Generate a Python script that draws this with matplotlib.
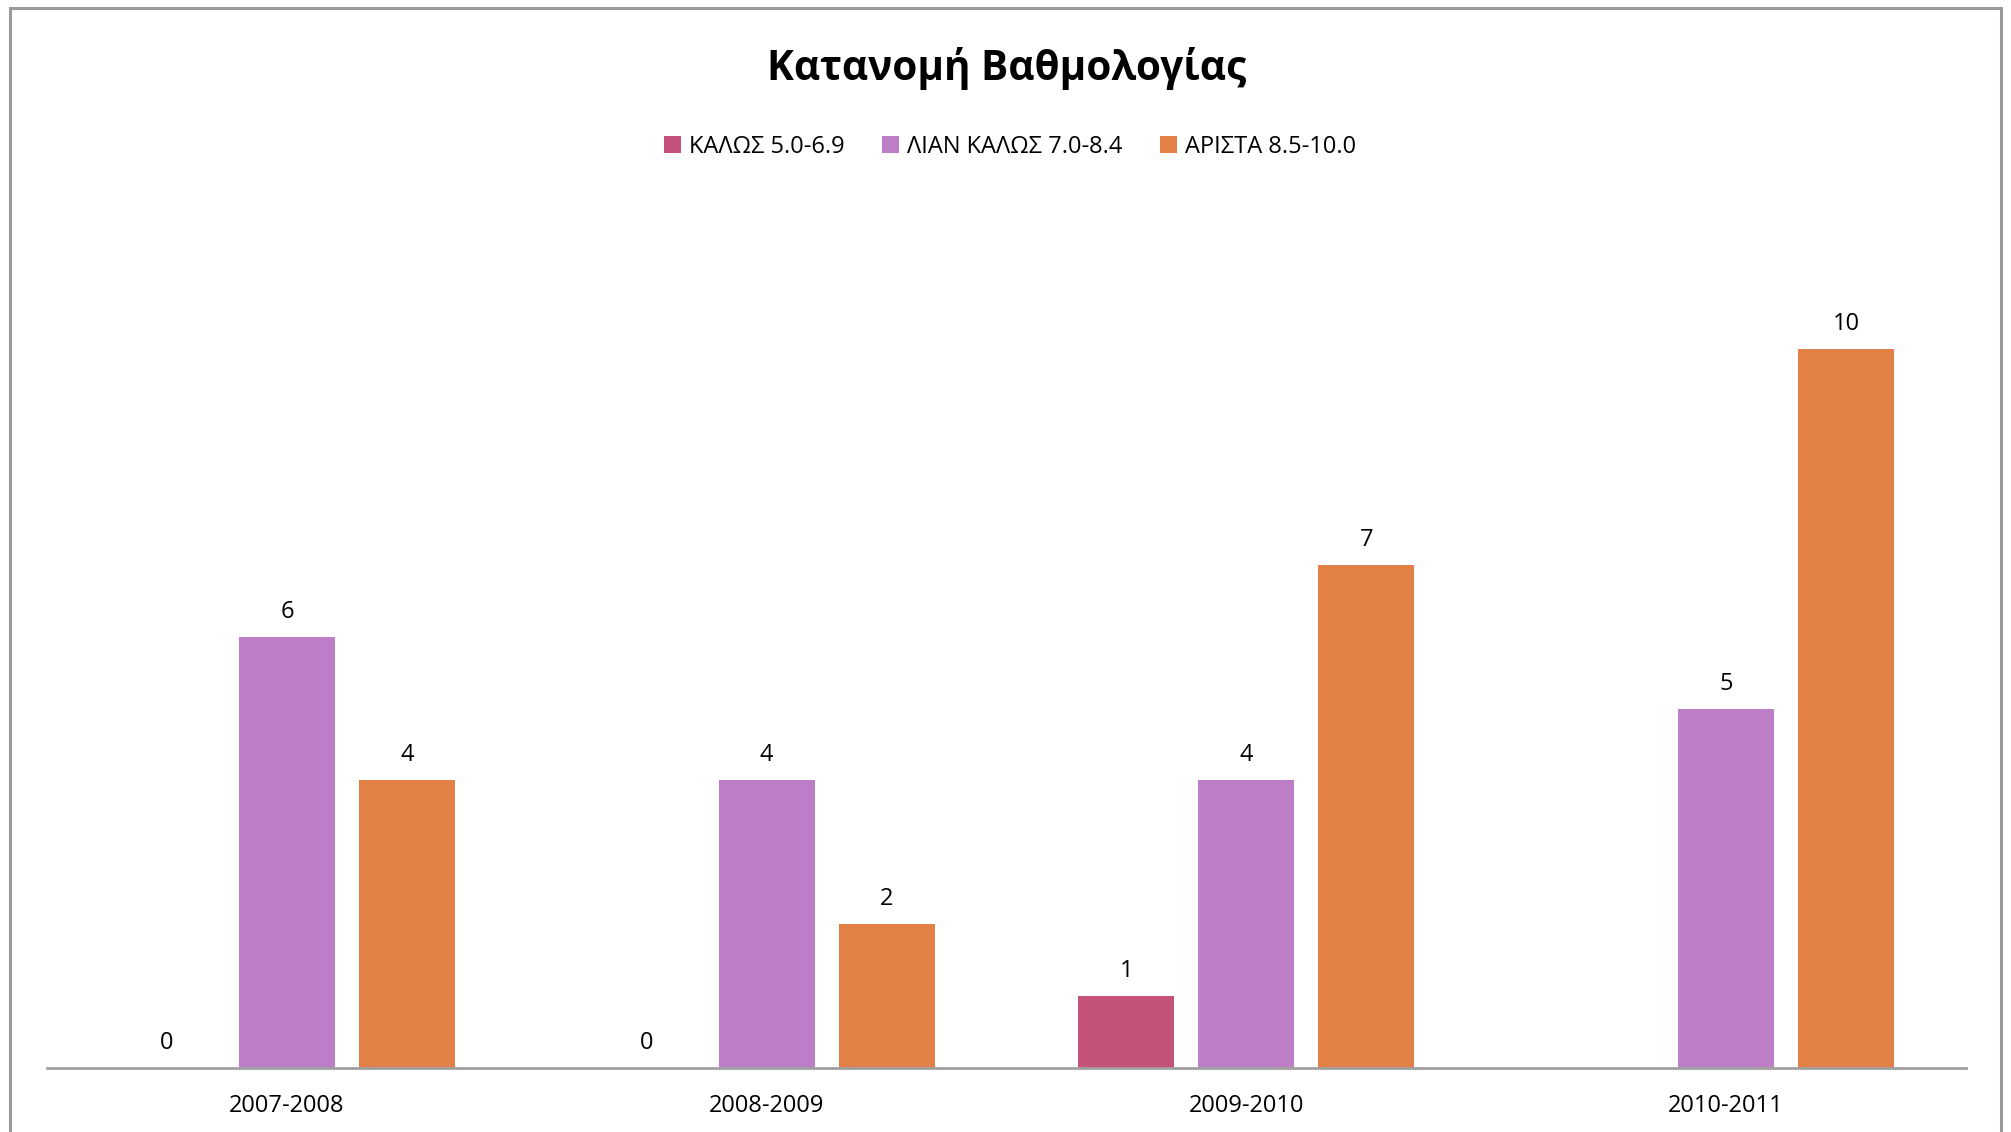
import numpy as np
import matplotlib
matplotlib.use("Agg")
import matplotlib.pyplot as plt
from matplotlib.patches import Rectangle

plt.rcParams['font.family'] = ['Open Sans', 'DejaVu Sans']

categories = ["2007-2008", "2008-2009", "2009-2010", "2010-2011"]
series_names = ["ΚΑΛΩΣ 5.0-6.9", "ΛΙΑΝ ΚΑΛΩΣ 7.0-8.4", "ΑΡΙΣΤΑ 8.5-10.0"]
kalos = [0, 0, 1, np.nan]
lian_kalos = [6, 4, 4, 5]
arista = [4, 2, 7, 10]
colors = ["#C4527A", "#BC7EC6", "#E28045"]
title = "Κατανομή Βαθμολογίας"

W, H = 2011, 1132
fig = plt.figure(figsize=(W / 100, H / 100), dpi=100)
fig.patch.set_facecolor("white")

# outer chart border
fig.patches.append(Rectangle((10 / W, -0.05), (2001 - 10) / W, 1.05 - 8 / H,
                             transform=fig.transFigure, fill=False,
                             edgecolor="#9a9a9a", linewidth=2.2))

ax_left, ax_right = 47, 1966
ax_bottom = 1068
ax_top = ax_bottom - 12 * 71.9
ax = fig.add_axes([ax_left / W, 1 - ax_bottom / H, (ax_right - ax_left) / W,
                   (ax_bottom - ax_top) / H])

x = np.arange(len(categories))
width = 0.2
offsets = [-0.25, 0.0, 0.25]
all_series = [kalos, lian_kalos, arista]
handles = []
for vals, off, col, name in zip(all_series, offsets, colors, series_names):
    v = np.array(vals, dtype=float)
    bars = ax.bar(x + off, np.nan_to_num(v), width=width, color=col, label=name)
    handles.append(bars)
    for xi, val in zip(x + off, v):
        if not np.isnan(val):
            ax.text(xi, val + 0.18, f"{int(val)}", ha="center", va="bottom",
                    fontsize=17, color="black")

ax.set_xlim(-0.5, len(categories) - 0.5)
ax.set_ylim(0, 12)
ax.set_xticks(x)
ax.set_xticklabels(categories, fontsize=17)
ax.tick_params(axis="x", length=0, pad=19)
ax.set_yticks([])
for s in ["top", "right", "left"]:
    ax.spines[s].set_visible(False)
ax.spines["bottom"].set_color("#a0a0a0")
ax.spines["bottom"].set_linewidth(2)

fig.text(1007 / W, 1 - 68 / H, title, ha="center", va="center",
         fontsize=29.2, fontweight="bold")

fig.legend(handles=handles, labels=series_names, loc="center",
           bbox_to_anchor=(1010 / W, 1 - 147 / H), ncol=3, frameon=False,
           fontsize=17, handlelength=0.7, handleheight=0.7, handletextpad=0.35,
           columnspacing=1.6)

fig.savefig("out.png", dpi=100, facecolor="white")
